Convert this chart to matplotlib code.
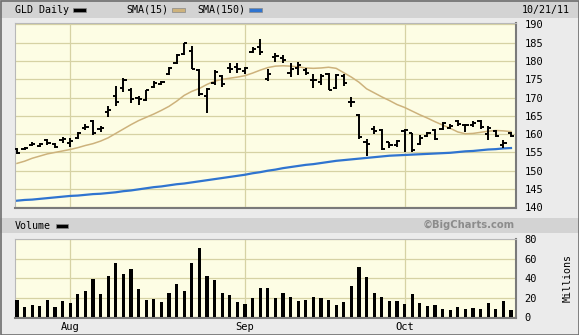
import numpy as np
import pandas as pd
import matplotlib
matplotlib.use("Agg")
import matplotlib.pyplot as plt
from matplotlib.patches import Rectangle

# trading days shown (Labor Day closed)
dates = pd.bdate_range("2011-07-21", "2011-10-21")
dates = dates[dates != pd.Timestamp("2011-09-05")]

opens = [155.9, 155.9, 157.0, 156.8, 158.4, 157.2, 158.3, 157.6, 159.0, 161.8,
         163.7, 161.5, 166.0, 170.3, 172.6, 172.0, 169.8, 169.4, 172.8, 173.8,
         176.5, 179.5, 181.8, 182.8, 177.6, 170.3, 174.0, 175.8, 178.0, 178.3,
         177.2, 182.5, 183.7, 175.0, 181.0, 180.9, 176.8, 178.0, 177.5, 174.9,
         174.2, 176.5, 172.6, 175.8, 168.9, 165.2, 157.9, 161.4, 161.2, 157.8,
         157.0, 160.9, 160.3, 157.2, 159.5, 161.0, 161.5, 161.8, 163.5, 162.6,
         162.5, 163.6, 160.0, 160.8, 157.0, 160.4]
highs = [156.2, 156.5, 157.8, 157.5, 158.7, 157.5, 159.2, 158.9, 160.7, 162.8,
         163.9, 162.3, 167.7, 173.2, 175.3, 172.5, 170.3, 172.1, 174.4, 174.5,
         178.4, 181.9, 185.0, 184.1, 177.7, 172.5, 177.5, 176.2, 179.4, 179.4,
         178.3, 183.9, 185.9, 177.7, 182.1, 181.6, 179.4, 179.8, 178.0, 176.4,
         176.4, 176.8, 176.4, 176.4, 170.1, 165.5, 158.8, 162.2, 161.4, 157.9,
         158.4, 161.3, 160.4, 159.7, 160.6, 161.3, 163.3, 162.7, 163.8, 162.7,
         163.6, 163.8, 162.2, 161.1, 158.4, 160.6]
lows = [154.5, 155.8, 156.8, 156.6, 157.1, 156.1, 157.7, 156.6, 158.7, 161.2,
        159.9, 160.7, 164.8, 167.7, 171.6, 168.6, 168.1, 169.2, 172.6, 173.5,
        176.3, 179.2, 181.6, 177.7, 170.3, 165.9, 173.5, 172.8, 176.7, 176.7,
        176.5, 182.3, 181.6, 174.4, 179.8, 179.4, 175.5, 176.2, 176.2, 172.6,
        173.5, 172.0, 172.3, 173.2, 167.5, 158.8, 154.0, 160.1, 155.7, 156.1,
        156.6, 155.2, 155.2, 157.0, 159.1, 158.4, 161.1, 161.5, 162.2, 160.5,
        162.0, 161.5, 158.4, 159.3, 156.1, 159.3]
closes = [154.8, 156.3, 157.4, 157.3, 157.6, 156.6, 158.6, 158.0, 160.2, 162.0,
          160.3, 161.8, 166.5, 168.9, 174.8, 169.5, 169.6, 172.0, 174.0, 174.2,
          178.0, 181.6, 184.8, 177.8, 171.0, 172.3, 177.0, 173.7, 177.9, 177.7,
          178.0, 183.2, 182.5, 176.5, 181.5, 180.4, 177.8, 178.9, 176.8, 174.7,
          175.8, 172.2, 176.1, 174.1, 168.7, 159.2, 157.3, 160.9, 156.0, 157.0,
          158.2, 161.0, 155.6, 159.0, 160.2, 158.8, 163.0, 162.3, 162.9, 162.5,
          163.1, 161.9, 161.8, 159.6, 157.6, 159.5]
sma15 = [152.0, 152.6, 153.4, 154.0, 154.6, 155.0, 155.4, 155.8, 156.3, 156.9,
         157.4, 158.1, 159.0, 160.2, 161.4, 162.6, 163.7, 164.6, 165.5, 166.5,
         167.6, 169.0, 170.6, 171.7, 172.5, 173.6, 174.5, 175.0, 175.3, 175.6,
         176.0, 176.7, 177.5, 178.2, 178.6, 178.7, 178.6, 178.4, 178.1, 178.0,
         178.1, 178.3, 178.0, 176.8, 175.6, 174.2, 172.4, 171.3, 170.2, 169.2,
         168.1, 167.3, 166.3, 165.3, 164.4, 163.4, 162.5, 161.6, 160.6, 160.1,
         160.2, 160.5, 160.8, 161.0, 160.9, 160.7]
sma150 = [141.8, 142.0, 142.1, 142.3, 142.5, 142.7, 142.9, 143.1, 143.2, 143.4,
          143.6, 143.7, 143.9, 144.1, 144.4, 144.6, 144.9, 145.2, 145.5, 145.7,
          146.0, 146.3, 146.5, 146.8, 147.1, 147.4, 147.7, 148.0, 148.3, 148.6,
          148.9, 149.3, 149.6, 150.0, 150.3, 150.7, 151.0, 151.3, 151.6, 151.8,
          152.1, 152.4, 152.7, 152.9, 153.1, 153.3, 153.5, 153.7, 153.9, 154.1,
          154.2, 154.3, 154.4, 154.5, 154.6, 154.7, 154.8, 154.9, 155.1, 155.3,
          155.4, 155.6, 155.8, 155.9, 156.1, 156.2]
volume = [17.9, 10.7, 12.8, 11.7, 17.9, 10.7, 16.9, 14.8, 24.2, 27.3,
          39.7, 24.2, 42.8, 55.2, 44.9, 50.0, 29.3, 17.9, 19.0, 15.9,
          25.2, 34.5, 27.3, 55.2, 70.7, 42.8, 38.6, 25.2, 23.1, 15.9,
          13.8, 20.0, 30.4, 30.4, 20.0, 25.2, 21.0, 17.0, 17.9, 20.7,
          20.0, 17.9, 12.8, 15.9, 32.4, 51.8, 41.7, 25.2, 21.0, 16.9,
          16.9, 13.8, 24.2, 14.8, 11.7, 12.8, 8.6, 7.6, 10.7, 8.6,
          9.7, 8.6, 14.8, 8.6, 16.9, 7.6]

price_ticks = [140, 145, 150, 155, 160, 165, 170, 175, 180, 185, 190]
vol_ticks = [0, 20, 40, 60, 80]

W, H = 579, 335
bg = "#fdfde4"
gridc = "#d6d2a4"
mono = "DejaVu Sans Mono"


def fx(x):
    return x / W


def fy(y):
    return 1 - y / H


fig = plt.figure(figsize=(W / 100, H / 100), dpi=100, facecolor="#ebebeb")

# header bands
fig.patches.append(Rectangle((0, fy(18)), 1, 18 / H, transform=fig.transFigure,
                             facecolor="#d3d3d3", edgecolor="none", zorder=0))
fig.patches.append(Rectangle((0, fy(233)), 1, 15 / H, transform=fig.transFigure,
                             facecolor="#d3d3d3", edgecolor="none", zorder=0))
fig.patches.append(Rectangle((0.5 / W, 0.5 / H), 1 - 1 / W, 1 - 1 / H,
                             transform=fig.transFigure, facecolor="none",
                             edgecolor="#6e6e6e", linewidth=1.2, zorder=5))

x = np.arange(len(dates))
month_pos = [i for i in range(1, len(dates)) if dates[i].month != dates[i - 1].month]
month_lab = [dates[i].strftime("%b") for i in month_pos]

# price panel
ax = fig.add_axes([fx(15), fy(208), fx(501), 185 / H])
ax.set_facecolor(bg)
ax.vlines(x, lows, highs, color="black", linewidth=1.4, zorder=3)
ax.hlines(opens, x - 0.42, x, color="black", linewidth=1.4, zorder=3)
ax.hlines(closes, x, x + 0.42, color="black", linewidth=1.4, zorder=3)
ax.plot(x, sma15, color="#cdb27c", linewidth=1.1, zorder=2)
ax.plot(x, sma150, color="#2f74d0", linewidth=1.6, zorder=2)
ax.set_xlim(-0.26, 65.66)
ax.set_ylim(139.8, 190.4)
ax.set_yticks(price_ticks)
ax.set_xticks(month_pos)
ax.set_xticklabels([])
ax.grid(True, color=gridc, linewidth=0.9, zorder=0)
ax.set_axisbelow(True)

# volume panel
av = fig.add_axes([fx(15), fy(318), fx(501), 79 / H])
av.set_facecolor(bg)
av.bar(x, volume, width=0.42, color="black", zorder=3)
av.set_xlim(-0.26, 65.66)
av.set_ylim(-0.7, 80.3)
av.set_yticks(vol_ticks)
av.set_xticks(month_pos)
av.set_xticklabels(month_lab)
av.grid(True, color=gridc, linewidth=0.9, zorder=0)
av.set_axisbelow(True)

for a in (ax, av):
    a.yaxis.tick_right()
    a.tick_params(axis="y", length=0, pad=6, labelsize=7.5)
    a.tick_params(axis="x", length=0, pad=3, labelsize=7.5)
    for lab in a.get_yticklabels() + a.get_xticklabels():
        lab.set_family(mono)
    a.spines["left"].set_color("#b8b8b8")
    a.spines["top"].set_color("#b8b8b8")
    a.spines["right"].set_color("#7a7a7a")
    a.spines["bottom"].set_color("#7a7a7a")
    a.spines["right"].set_linewidth(1.5)
    a.spines["bottom"].set_linewidth(1.5)

# header texts and swatches
fig.text(fx(15), fy(10), "GLD Daily", family=mono, fontsize=7.2, va="center")
fig.patches.append(Rectangle((fx(73), fy(12)), 13 / W, 4 / H, transform=fig.transFigure,
                             facecolor="black", edgecolor="#888888", linewidth=0.5))
fig.text(fx(126), fy(10), "SMA(15)", family=mono, fontsize=7.2, va="center")
fig.patches.append(Rectangle((fx(172), fy(12)), 13 / W, 4 / H, transform=fig.transFigure,
                             facecolor="#cdb27c", edgecolor="#888888", linewidth=0.5))
fig.text(fx(197), fy(10), "SMA(150)", family=mono, fontsize=7.2, va="center")
fig.patches.append(Rectangle((fx(249), fy(12)), 13 / W, 4 / H, transform=fig.transFigure,
                             facecolor="#2f74d0", edgecolor="#888888", linewidth=0.5))
fig.text(fx(570), fy(10), "10/21/11", family=mono, fontsize=7.2, va="center", ha="right")

fig.text(fx(15), fy(226), "Volume", family=mono, fontsize=7.2, va="center")
fig.patches.append(Rectangle((fx(56), fy(228)), 12 / W, 4 / H, transform=fig.transFigure,
                             facecolor="black", edgecolor="#888888", linewidth=0.5))
fig.text(fx(515), fy(225), "\u00a9BigCharts.com", fontsize=7.2, fontweight="bold",
         color="#8c8c8c", va="center", ha="right")
fig.text(fx(568), fy(278), "Millions", family=mono, fontsize=7.2, rotation=90,
         va="center", ha="center")

fig.savefig("out.png", dpi=100, facecolor=fig.get_facecolor())
